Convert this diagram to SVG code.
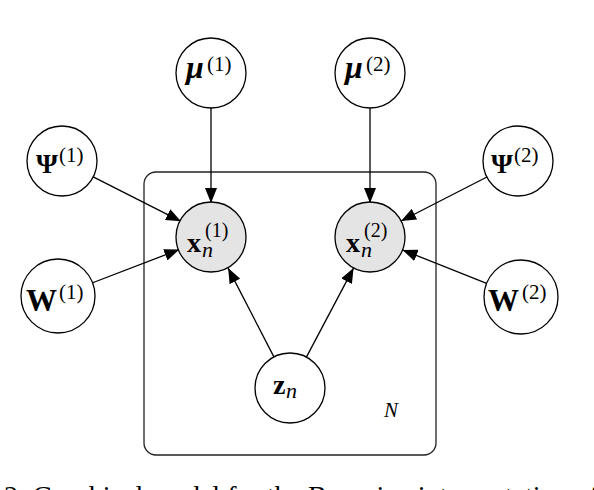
<svg xmlns="http://www.w3.org/2000/svg" width="594" height="490" viewBox="0 0 594 490">
<style>
.nd{fill:#fff;stroke:#000;stroke-width:1.3}
.obs{fill:#e4e4e4;stroke:#000;stroke-width:1.3}
.plate{fill:none;stroke:#222;stroke-width:1.3}
.ed{stroke:#000;stroke-width:1.3;fill:none;marker-end:url(#ah)}
.lb{font-family:"Liberation Serif","Times New Roman",serif;font-size:28px;font-weight:bold;fill:#000}
.sup{font-family:"Liberation Serif","Times New Roman",serif;font-size:21px;fill:#000}
.sub{font-family:"Liberation Serif","Times New Roman",serif;font-size:22px;font-style:italic;fill:#000}
.it{font-style:italic}
.cap{font-family:"Liberation Serif","Times New Roman",serif;font-size:28px;fill:#000}
</style>
<defs>
<marker id="ah" markerUnits="userSpaceOnUse" markerWidth="15" markerHeight="12" refX="15" refY="6" orient="auto">
<path d="M0,0 L15,6 L0,12 z" fill="#000"/>
</marker>
</defs>
<rect class="plate" x="144" y="172" width="292" height="283" rx="12" ry="12"/>
<text x="384" y="417" style="font-family:'Liberation Serif',serif;font-size:21px;font-style:italic">N</text>
<g id="connectors">
<line class="ed" x1="211" y1="108" x2="211" y2="203"/>
<line class="ed" x1="370" y1="108" x2="370" y2="203"/>
<line class="ed" x1="93.2" y1="176.8" x2="181" y2="221.3"/>
<line class="ed" x1="90.7" y1="283.5" x2="179.3" y2="249.5"/>
<line class="ed" x1="486.9" y1="177" x2="401.1" y2="221"/>
<line class="ed" x1="488.5" y1="284.1" x2="402.5" y2="249.9"/>
<line class="ed" x1="273.9" y1="356.9" x2="228.1" y2="268.1"/>
<line class="ed" x1="306.4" y1="357.1" x2="353.6" y2="267.9"/>
</g>
<g id="mu1">
<circle class="nd" cx="211" cy="73" r="35"/>
<text class="lb it" x="186" y="78" style="font-size:32px">μ</text>
<text class="sup" x="207" y="71">(1)</text>
</g>
<g id="mu2">
<circle class="nd" cx="370" cy="73" r="35"/>
<text class="lb it" x="345" y="78" style="font-size:32px">μ</text>
<text class="sup" x="366" y="71">(2)</text>
</g>
<g id="psi1">
<circle class="nd" cx="62" cy="161" r="35"/>
<text class="lb" x="36" y="173">Ψ</text>
<text class="sup" x="59" y="162">(1)</text>
</g>
<g id="psi2">
<circle class="nd" cx="518" cy="161" r="35"/>
<text class="lb" x="491" y="173">Ψ</text>
<text class="sup" x="514" y="162">(2)</text>
</g>
<g id="W1">
<circle class="nd" cx="58" cy="296" r="37"/>
<text class="lb" x="26" y="311" style="font-size:31px">W</text>
<text class="sup" x="59" y="299">(1)</text>
</g>
<g id="W2">
<circle class="nd" cx="521" cy="297" r="37"/>
<text class="lb" x="488" y="311" style="font-size:31px">W</text>
<text class="sup" x="522" y="299">(2)</text>
</g>
<g id="x1">
<circle class="obs" cx="211" cy="237" r="35"/>
<text class="lb" x="187" y="252">x</text>
<text class="sub" x="202" y="257">n</text>
<text class="sup" x="205" y="237" style="font-size:20px">(1)</text>
</g>
<g id="x2">
<circle class="obs" cx="370" cy="237" r="35"/>
<text class="lb" x="346" y="252">x</text>
<text class="sub" x="361" y="257">n</text>
<text class="sup" x="364" y="237" style="font-size:20px">(2)</text>
</g>
<g id="z">
<circle class="nd" cx="290" cy="388" r="35"/>
<text class="lb" x="273" y="394">z</text>
<text class="sub" x="286" y="398">n</text>
</g>
<text class="cap" x="4" y="505">2: Graphical model for the Bayesian interpretation of</text>
</svg>
